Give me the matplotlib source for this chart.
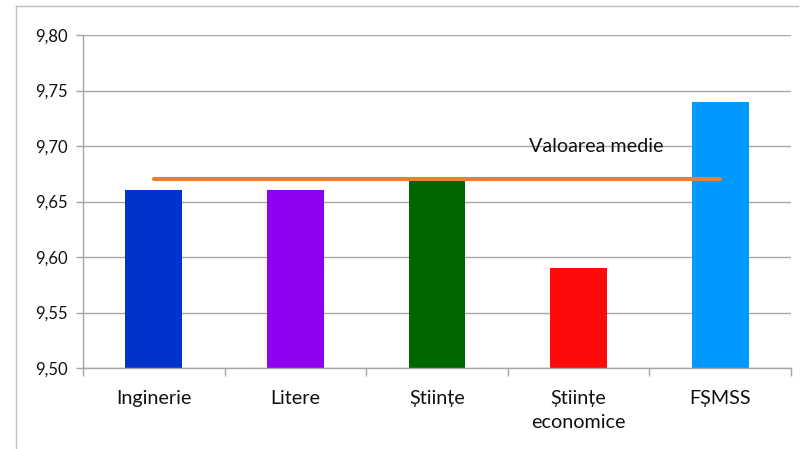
import matplotlib.pyplot as plt
from matplotlib.lines import Line2D
from matplotlib.ticker import FuncFormatter
import numpy as np

plt.rcParams['font.family'] = ['Lato', 'DejaVu Sans']

# date
categorii = ['Inginerie', 'Litere', 'Științe', 'Științe\neconomice', 'FȘMSS']
medii = [9.66, 9.66, 9.67, 9.59, 9.74]
culori = ['#0033CC', '#8F00EE', '#006600', '#FF0A0A', '#0099FF']
valoare_medie = 9.67
eticheta_medie = 'Valoarea medie'

W, H = 809, 449
fig = plt.figure(figsize=(W / 100, H / 100), dpi=100)
ax = fig.add_axes([83 / W, 1 - 368 / H, (791 - 83) / W, (368 - 35) / H])

x = np.arange(len(categorii))
ax.bar(x, [m - 9.5 for m in medii], bottom=9.5, width=0.40, color=culori, zorder=2)
ax.plot([x[0], x[-1]], [valoare_medie] * 2, color='#ED7D31', lw=3, solid_capstyle='round', zorder=3)
ax.text(3.6, 9.70, eticheta_medie, ha='right', va='center', fontsize=14.2, color='#111111', zorder=4)

ax.set_xlim(-0.5, len(categorii) - 0.5)
ax.set_ylim(9.5, 9.8)
ax.set_yticks(np.arange(9.50, 9.801, 0.05))
ax.yaxis.set_major_formatter(FuncFormatter(lambda v, p: f'{v:.2f}'.replace('.', ',')))
ax.grid(axis='y', color='#A6A6A6', lw=1, zorder=1)

ax.set_xticks(x)
ax.set_xticklabels(categorii, fontsize=14.2, color='#111111', linespacing=1.5)
ax.set_xticks(np.arange(-0.5, len(categorii)), minor=True)
ax.tick_params(axis='x', which='major', length=0, pad=16)
ax.tick_params(axis='x', which='minor', length=6, color='#A6A6A6', width=1)
ax.tick_params(axis='y', length=5, color='#A6A6A6', width=1, labelsize=12, labelcolor='#111111', pad=6)

for s in ['top', 'right']:
    ax.spines[s].set_visible(False)
for s in ['left', 'bottom']:
    ax.spines[s].set_color('#A6A6A6')
    ax.spines[s].set_linewidth(1)

# chenar
fig.add_artist(Line2D([16 / W, 798 / W], [1 - 6 / H] * 2, color='#BFBFBF', lw=1))
fig.add_artist(Line2D([16 / W] * 2, [1 - 6 / H, 0], color='#BFBFBF', lw=1))

fig.savefig('out.png', dpi=100)
